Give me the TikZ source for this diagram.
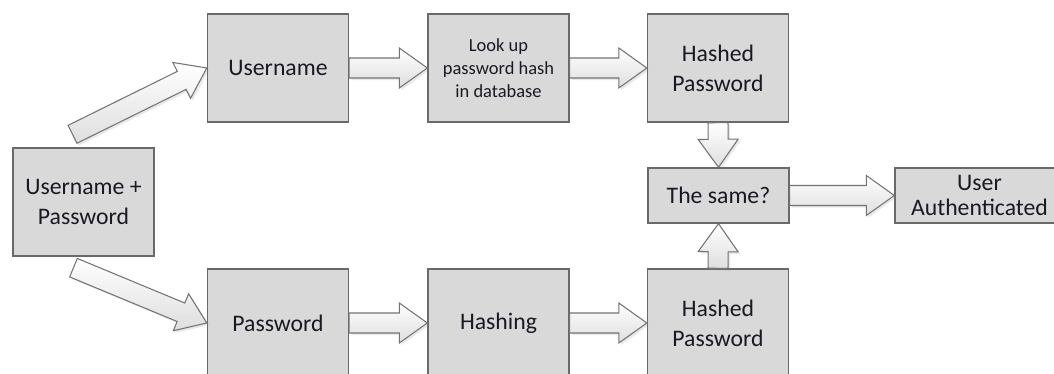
\documentclass[tikz,border=0pt]{standalone}
\usepackage{fontspec}
\setmainfont{Carlito}
\usetikzlibrary{calc,shadows}

\definecolor{boxfill}{RGB}{217,217,217}
\definecolor{boxline}{RGB}{105,105,105}
\definecolor{arrowline}{RGB}{115,115,115}
\definecolor{arrowshade}{RGB}{222,222,222}
\definecolor{txt}{RGB}{25,25,35}

\begin{document}
\begin{tikzpicture}[x=0.02cm,y=-0.02cm]
     \tikzstyle{block}=[draw=boxline, fill=boxfill, line width=0.8pt, text=txt, align=center,
       minimum width=2.82cm, minimum height=2.16cm, inner sep=2pt,
       font=\fontsize{13.5}{17}\selectfont]

     \tikzstyle{fatarrow}=[draw=arrowline, line width=0.6pt, top color=white, bottom color=arrowshade,
       drop shadow={opacity=0.18, shadow xshift=1.2pt, shadow yshift=-1.2pt},
       to path={let \p1=(\tikztostart), \p2=(\tikztotarget), \p3=($(\p2)!0.56cm!(\p1)$) in
         ($(\p1)!0.2cm!90:(\p2)$) -- ($(\p3)!0.2cm!90:(\p2)$) -- ($(\p3)!0.4cm!90:(\p2)$)
         -- (\p2) -- ($(\p3)!0.4cm!-90:(\p2)$) -- ($(\p3)!0.2cm!-90:(\p2)$)
         -- ($(\p1)!0.2cm!-90:(\p2)$) -- cycle}]

     \useasboundingbox (0,0) rectangle (1054,374);
     \clip (0,0) rectangle (1054,374);

     % boxes
     \node[block] (combo) at (83.5,202) {Username +\\Password};
     \node[block] (user) at (278,68) {Username};
     \node[block, font=\fontsize{10.5}{13}\selectfont] (lookup) at (498.5,68) {Look up\\password hash\\in database};
     \node[block] (hashtop) at (718,68) {Hashed\\Password};
     \node[block, minimum height=1.1cm] (same) at (718.5,195.5) {The same?};
     \node[block, minimum height=1.1cm, minimum width=3.38cm,
           font=\fontsize{13.5}{14.5}\selectfont] (auth) at (979.5,195.5) {User\\Authenticated};
     \node[block] (pass) at (278,323) {Password};
     \node[block] (hashing) at (498.5,323) {Hashing};
     \node[block] (hashbot) at (718,323) {Hashed\\Password};

     % tails of the split arrows
     \coordinate (upTail) at ($(combo.north)+(-11,-13)$);
     \coordinate (downTail) at ($(combo.south)+(-10,11)$);

     % arrows
     \draw[fatarrow] (upTail) to (user.west);
     \draw[fatarrow] (downTail) to (pass.west);
     \draw[fatarrow] (user.east) to (lookup.west);
     \draw[fatarrow] (lookup.east) to (hashtop.west);
     \draw[fatarrow] (pass.east) to (hashing.west);
     \draw[fatarrow] (hashing.east) to (hashbot.west);
     \draw[fatarrow] (hashtop.south) to (same.north);
     \draw[fatarrow] (hashbot.north) to (same.south);
     \draw[fatarrow] (same.east) to (auth.west);
\end{tikzpicture}
\end{document}
